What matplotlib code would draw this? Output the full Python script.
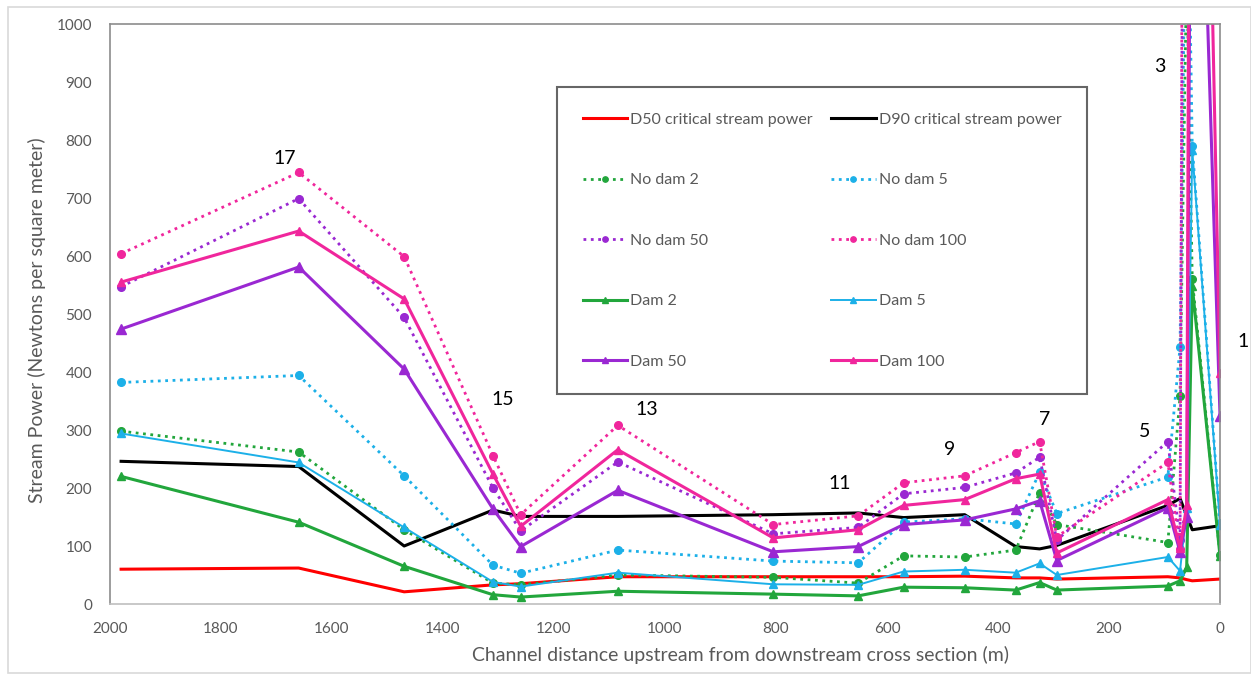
import matplotlib
matplotlib.use("Agg")
import matplotlib.pyplot as plt
from matplotlib.patches import Rectangle

# ---------------- data ----------------
distance = [1980, 1660, 1470, 1310, 1260, 1085, 805, 652, 570, 460, 368, 325, 294, 94, 72, 60, 50, 0]

d50_critical = [60, 62, 21, 33, 35, 47, 47, 47, 47, 48, 45, 45, 43, 47, 45, 42, 40, 43]
d90_critical = [246, 237, 100, 162, 151, 151, 154, 157, 149, 154, 99, 95, 101, 170, 182, 152, 128, 135]

no_dam_2 = [298, 262, 128, 36, 33, 50, 46, 36, 83, 81, 93, 192, 137, 106, 358, 1100, 560, 85]
no_dam_5 = [382, 394, 221, 67, 53, 93, 74, 71, 141, 147, 138, 227, 156, 219, 443, 1400, 790, 140]
no_dam_50 = [547, 699, 494, 200, 126, 245, 121, 132, 190, 201, 226, 253, 110, 280, 110, 3000, 2800, 2500]
no_dam_100 = [604, 744, 599, 256, 154, 308, 137, 152, 209, 221, 261, 280, 116, 244, 95, 3500, 3200, 3000]

dam_2 = [220, 141, 65, 16, 12, 22, 17, 14, 29, 28, 24, 37, 24, 31, 40, 63, 548, 83]
dam_5 = [294, 244, 132, 38, 30, 54, 34, 33, 56, 59, 54, 70, 50, 81, 57, 166, 783, 137]
dam_50 = [474, 581, 405, 164, 99, 196, 90, 99, 137, 145, 164, 178, 75, 166, 90, 150, 1850, 325]
dam_100 = [555, 643, 526, 224, 134, 266, 114, 128, 170, 180, 216, 224, 88, 180, 96, 170, 2700, 398]

section_labels = ["17", "15", "13", "11", "9", "7", "5", "3", "1"]
section_label_x = [1686, 1292, 1033, 686, 487, 316, 135, 108, -41]
section_label_y = [768, 353, 336, 207, 266, 318, 298, 927, 453]

x_ticks = [2000, 1800, 1600, 1400, 1200, 1000, 800, 600, 400, 200, 0]
y_ticks = [0, 100, 200, 300, 400, 500, 600, 700, 800, 900, 1000]

# ---------------- style ----------------
plt.rcParams['font.family'] = ['Lato', 'DejaVu Sans']
GRAY_TXT = '#595959'
RED = '#FF0000'
GREEN = '#22A63C'
BLUE = '#1CB0E8'
PURPLE = '#9A28D2'
PINK = '#F0269C'

W, H = 1251, 674
fig = plt.figure(figsize=(W / 100, H / 100), dpi=100)
ax = fig.add_axes([110 / W, 1 - 604 / H, 1110 / W, 580 / H])

# outer light frame like the spreadsheet chart area
fig.add_artist(Rectangle((8 / W, 1 / H), 1 - 8 / W, 1 - 8 / H, transform=fig.transFigure,
                         fill=False, edgecolor='#d9d9d9', linewidth=1.2))

lines = {}
lines['D50 critical stream power'] = ax.plot(distance, d50_critical, color=RED, lw=2.2)[0]
lines['D90 critical stream power'] = ax.plot(distance, d90_critical, color='black', lw=2.2)[0]

dot_kw = dict(ls=':', lw=2.0, marker='o', markersize=5.5)
lines['No dam 2'] = ax.plot(distance, no_dam_2, color=GREEN, **dot_kw)[0]
lines['No dam 5'] = ax.plot(distance, no_dam_5, color=BLUE, **dot_kw)[0]
lines['No dam 50'] = ax.plot(distance, no_dam_50, color=PURPLE, **dot_kw)[0]
lines['No dam 100'] = ax.plot(distance, no_dam_100, color=PINK, **dot_kw)[0]

lines['Dam 2'] = ax.plot(distance, dam_2, color=GREEN, lw=2.2, marker='^', markersize=6)[0]
lines['Dam 5'] = ax.plot(distance, dam_5, color=BLUE, lw=1.4, marker='^', markersize=6)[0]
lines['Dam 50'] = ax.plot(distance, dam_50, color=PURPLE, lw=2.2, marker='^', markersize=7)[0]
lines['Dam 100'] = ax.plot(distance, dam_100, color=PINK, lw=2.2, marker='^', markersize=6)[0]

for lab, lx, ly in zip(section_labels, section_label_x, section_label_y):
    ax.text(lx, ly, lab, fontsize=14, color='black', ha='center', va='center', clip_on=False)

ax.set_xlim(2000, 0)
ax.set_ylim(0, 1000)
ax.set_xticks(x_ticks)
ax.set_yticks(y_ticks)
ax.tick_params(axis='both', length=0, labelsize=11, labelcolor=GRAY_TXT)
ax.tick_params(axis='y', pad=13)
ax.tick_params(axis='x', pad=13)
for s in ax.spines.values():
    s.set_color('#8c8c8c')
    s.set_linewidth(1.2)
ax.spines['bottom'].set_color('#bfbfbf')

ax.set_ylabel('Stream Power (Newtons per square meter)', fontsize=14, color=GRAY_TXT)
ax.yaxis.set_label_coords(-0.058, 0.49)
ax.set_xlabel('Channel distance upstream from downstream cross section (m)', fontsize=14, color=GRAY_TXT)
ax.xaxis.set_label_coords(0.568, -0.072)

order = ['D50 critical stream power', 'No dam 2', 'No dam 50', 'Dam 2', 'Dam 50',
         'D90 critical stream power', 'No dam 5', 'No dam 100', 'Dam 5', 'Dam 100']
handles = [lines[k] for k in order]
leg = ax.legend(handles, order, ncol=2, loc='upper left',
                bbox_to_anchor=((557 - 110) / 1110, (604 - 87) / 580, (1087 - 557) / 1110, 0.0),
                mode='expand', borderaxespad=0, fontsize=11.5, labelspacing=2.9,
                handlelength=2.8, handletextpad=0.2, columnspacing=0.5,
                frameon=True, fancybox=False, borderpad=1.6, markerscale=0.7)
leg.get_frame().set_edgecolor('#404040')
leg.get_frame().set_linewidth(1.5)
for t in leg.get_texts():
    t.set_color(GRAY_TXT)

fig.savefig('out.png', dpi=100)
